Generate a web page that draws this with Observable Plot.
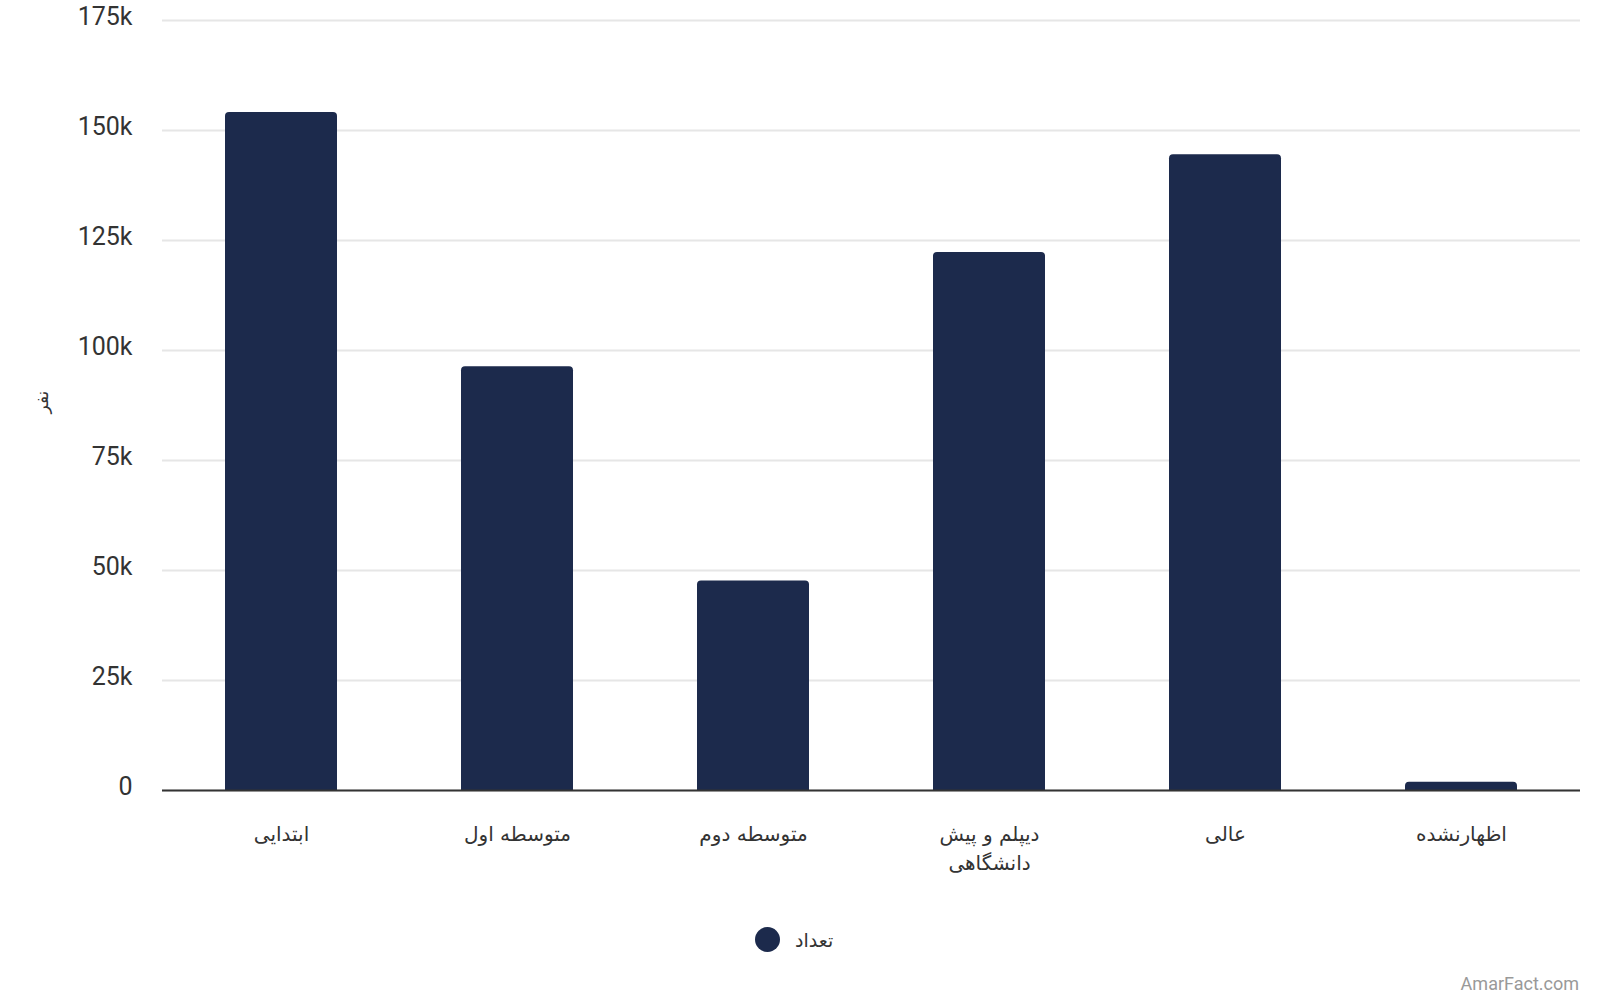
<!DOCTYPE html>
<html>
<head>
<meta charset="utf-8">
<script src="https://cdn.jsdelivr.net/npm/d3@7"></script>
<script src="https://cdn.jsdelivr.net/npm/@observablehq/plot@0.6"></script>
<style>
  body { margin: 0; background: #fff; font-family: Roboto, "DejaVu Sans", sans-serif; }
  #wrap { position: relative; width: 1600px; height: 1000px; overflow: hidden; }
  #legend { position: absolute; left: 755px; top: 927px; display: flex; align-items: center; gap: 15px; font-family: "DejaVu Sans", sans-serif; font-size: 19px; color: #333; }
  #legend .dot { width: 25px; height: 25px; border-radius: 50%; background: #1c2a4c; display: inline-block; }
  #credit { position: absolute; right: 21px; top: 973px; font-family: Roboto, sans-serif; font-size: 18px; color: #999; }
</style>
</head>
<body>
<div id="wrap">
  <div id="chart"></div>
  <div id="legend"><span class="dot"></span><span id="legendText"></span></div>
  <div id="credit">AmarFact.com</div>
</div>
<script>
const categories = ["ابتدایی", "متوسطه اول", "متوسطه دوم", "دیپلم و پیش دانشگاهی", "عالی", "اظهارنشده"];
const values = [154100, 96300, 47600, 122300, 144500, 1900];
const yTicks = [0, 25000, 50000, 75000, 100000, 125000, 150000, 175000];
const seriesName = "تعداد";
const yLabel = "نفر";
const barColor = "#1c2a4c";

const data = categories.map((c, i) => ({ category: c, value: values[i] }));

const chart = Plot.plot({
  width: 1600,
  height: 880,
  marginTop: 20,
  marginBottom: 90,
  marginLeft: 162,
  marginRight: 20,
  style: { fontFamily: "Roboto, 'DejaVu Sans', sans-serif", background: "#fff", color: "#333" },
  x: { domain: categories, paddingInner: 0.525, paddingOuter: 0.2625, axis: null, label: null },
  y: { domain: [0, 175000], axis: null, label: null },
  marks: [
    Plot.gridY(yTicks, { stroke: "#e6e6e6", strokeOpacity: 1, strokeWidth: 2 }),
    Plot.axisY(yTicks, {
      tickSize: 0, tickPadding: 30, fontSize: 25, fill: "#333", dy: -4, label: null,
      tickFormat: d => d === 0 ? "0" : (d / 1000) + "k"
    }),
    Plot.barY(data, { x: "category", y: "value", fill: barColor, ry1: 4 }),
    Plot.ruleY([0], { stroke: "#333", strokeWidth: 2 }),
    Plot.axisX({
      tickSize: 0, tickPadding: 30, fontSize: 20, lineHeight: 1.45, fill: "#333", label: null,
      fontFamily: "'DejaVu Sans', sans-serif",
      tickFormat: d => d.replace("پیش ", "پیش\n")
    }),
    Plot.text([yLabel], { frameAnchor: "left", dx: -120, dy: 8, rotate: -90, fontSize: 17, fill: "#333", fontFamily: "'DejaVu Sans', sans-serif" })
  ]
});
document.getElementById("chart").appendChild(chart);
document.getElementById("legendText").textContent = seriesName;
</script>
</body>
</html>
